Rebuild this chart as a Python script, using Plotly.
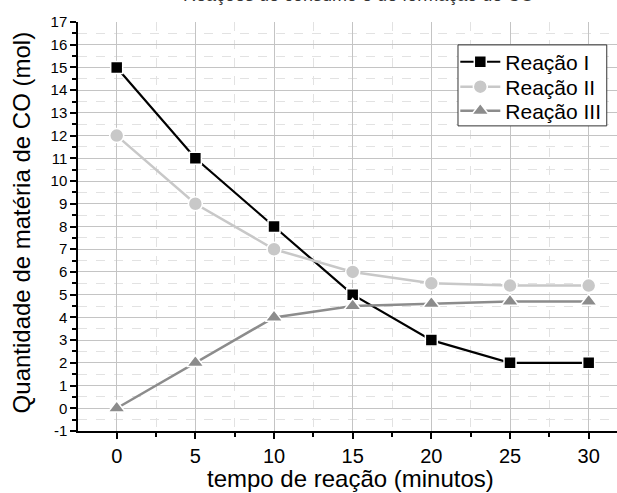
import plotly.graph_objects as go

tempo = [0, 5, 10, 15, 20, 25, 30]
reacao_i = [15, 11, 8, 5, 3, 2, 2]
reacao_ii = [12, 9, 7, 6, 5.5, 5.4, 5.4]
reacao_iii = [0, 2, 4, 4.5, 4.6, 4.7, 4.7]
nomes = ["Reação I", "Reação II", "Reação III"]
y_ticks = list(range(-1, 18))
titulo = "Reações de consumo e de formação de CO"
titulo_x = "tempo de reação (minutos)"
titulo_y = "Quantidade de matéria de CO (mol)"

FONT = "Liberation Sans, Arial, sans-serif"

fig = go.Figure()
fig.add_trace(go.Scatter(x=tempo, y=reacao_i, name=nomes[0], mode="lines+markers",
                         legend="legend",
                         line=dict(color="#000000", width=2.2),
                         marker=dict(symbol="square", size=12, color="#000000",
                                     line=dict(color="white", width=1.5))))
fig.add_trace(go.Scatter(x=tempo, y=reacao_ii, name=nomes[1], mode="lines+markers",
                         legend="legend2",
                         line=dict(color="#c8c8c8", width=2.5),
                         marker=dict(symbol="circle", size=14, color="#c8c8c8",
                                     line=dict(color="white", width=1.5))))
fig.add_trace(go.Scatter(x=tempo, y=reacao_iii, name=nomes[2], mode="lines+markers",
                         legend="legend3",
                         line=dict(color="#8c8c8c", width=2.5),
                         marker=dict(symbol="triangle-up", size=15, color="#8c8c8c",
                                     line=dict(color="white", width=1.5))))

leg_common = dict(x=0.70, xanchor="left", yanchor="middle",
                  bgcolor="rgba(0,0,0,0)", borderwidth=0,
                  font=dict(size=21, family=FONT), itemwidth=40)

fig.update_layout(
    width=617, height=493,
    margin=dict(l=78, r=0, t=22, b=62),
    plot_bgcolor="white", paper_bgcolor="white",
    font=dict(family=FONT, color="#000000"),
    showlegend=True,
    legend=dict(y=0.902, **leg_common),
    legend2=dict(y=0.841, **leg_common),
    legend3=dict(y=0.782, **leg_common),
    xaxis=dict(range=[-2.46, 31.8], tickmode="array", tickvals=tempo,
               automargin=False,
               showline=True, linecolor="black", linewidth=1.5,
               ticks="outside", ticklen=6, tickwidth=1.5, tickcolor="black",
               tickfont=dict(size=20), zeroline=False,
               showgrid=True, gridcolor="#c4c4c4", gridwidth=1,
               minor=dict(dtick=2.5, tick0=2.5, showgrid=True, gridcolor="#e2e2e2",
                          griddash="dash", ticks="outside", ticklen=4, tickcolor="black")),
    yaxis=dict(range=[-1, 17], tickmode="array", tickvals=y_ticks,
               ticktext=[str(v) for v in y_ticks],
               automargin=False,
               showline=True, linecolor="black", linewidth=1.5,
               ticks="outside", ticklen=6, tickwidth=1.5, tickcolor="black",
               tickfont=dict(size=15), zeroline=False,
               showgrid=True, gridcolor="#c4c4c4", gridwidth=1,
               minor=dict(dtick=0.5, tick0=0.5, showgrid=True, gridcolor="#e2e2e2",
                          griddash="dash", ticks="outside", ticklen=4, tickcolor="black")),
)

# legend frame
fig.add_shape(type="rect", xref="paper", yref="paper",
              x0=0.705, x1=0.981, y0=0.746, y1=0.944,
              line=dict(color="#333333", width=1), fillcolor="white", layer="above")

# axis titles
fig.add_annotation(text=titulo_x, xref="paper", yref="paper", x=0.505, y=-0.117,
                   xanchor="center", yanchor="middle", showarrow=False,
                   font=dict(size=24, color="#000000", family=FONT))
fig.add_annotation(text=titulo_y, xref="paper", yref="paper", x=-0.1058, y=0.51,
                   xanchor="center", yanchor="middle", showarrow=False, textangle=-90,
                   font=dict(size=24, color="#000000", family=FONT))

# chart title (cut off at the top edge, as in the original)
fig.add_annotation(text=titulo, xref="paper", yref="paper", x=0.52, y=1.037,
                   xanchor="center", yanchor="bottom", showarrow=False,
                   font=dict(size=18, color="#333333", family=FONT))

fig.write_html("out.html", config={"displayModeBar": False},
               post_script="document.body.style.margin='0';")
